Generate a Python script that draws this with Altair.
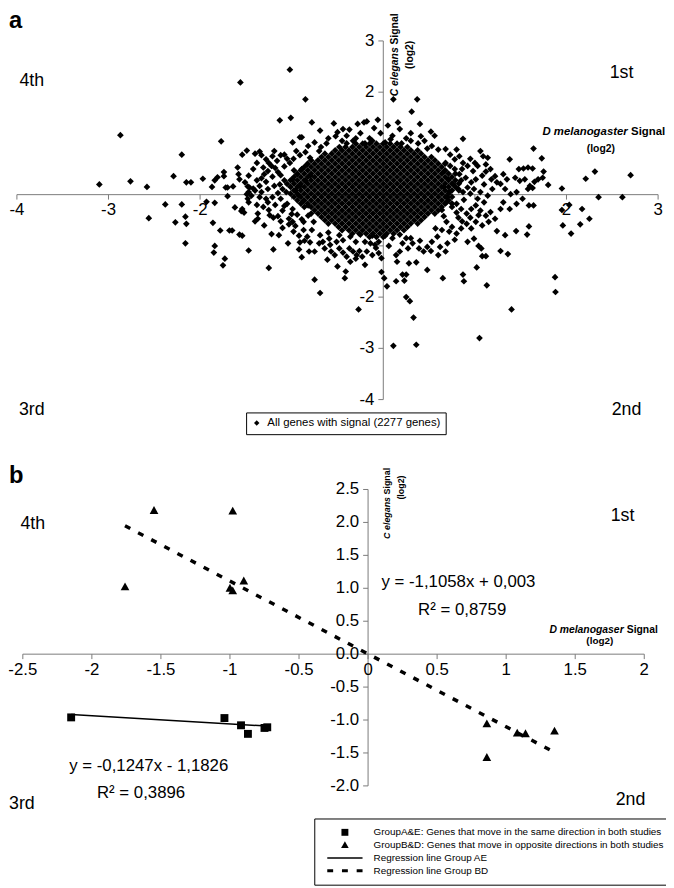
import altair as alt
import pandas as pd

FONT = "Liberation Sans, Arial, sans-serif"
W, H = 666, 880

# ---------------- Panel a : all genes with signal ----------------
LAB_A = "All genes with signal (2277 genes)"

a_far_left = [(-1.56,2.19),(-2.87,1.16),(-1.77,1.04),(-2.20,0.78),(-1.54,0.78),(-1.49,0.86),(-3.10,0.20),
    (-2.76,0.26),(-2.58,0.15),(-2.29,0.36),(-2.15,0.24),(-2.10,0.24),(-1.97,0.31),(-1.87,0.15),(-1.84,0.28),
    (-1.81,0.34),(-1.74,0.36),(-1.74,0.44),(-1.72,0.14),(-1.70,0.14),(-1.64,0.16),(-1.59,0.53),(-1.58,0.40),
    (-1.57,0.30),(-1.70,-0.03),(-1.48,0.16),(-1.47,0.05),(-1.48,-0.08),(-2.38,-0.19),(-2.20,-0.19),(-2.56,-0.46),
    (-2.27,-0.54),(-2.16,-0.43),(-2.15,-0.57),(-2.16,-0.95),(-1.93,-0.14),(-1.84,-0.16),(-1.86,-0.55),(-1.78,-0.70),
    (-1.84,-1.00),(-1.85,-1.13),(-1.73,-1.25),(-1.75,-1.38),(-1.68,-0.70),(-1.65,-0.70),(-1.62,-0.25),(-1.57,-0.78),
    (-1.54,-0.80),(-1.54,-0.28),(-1.55,-0.32),(-1.52,-0.35),(-1.47,-1.09),(-1.25,-1.43),(-1.20,-1.07),(-1.22,-0.77),
    (-1.14,-0.79),(-1.04,-0.95),(-0.92,-1.07),(-0.89,-1.22),(-0.81,-1.11),(-1.40,-0.52),(-1.37,-0.47),(-1.03,-0.58),
    (-0.99,-0.53),(-0.87,-0.53)]

a_top = [(-1.02,2.44),(-0.85,1.86),(-1.01,1.50),(-1.13,1.45),(-0.78,1.41),(-0.69,1.25),(-0.54,1.39),(-0.44,1.28),
    (-0.37,1.27),(-0.28,1.38),(-0.21,1.41),(-0.18,1.43),(-0.06,1.46),(0.11,1.86),(0.37,1.86),(0.31,1.62),(0.40,1.38),
    (0.16,1.41),(0.87,1.09),(0.52,1.23),(0.56,1.15),(-0.91,1.12),(-0.89,1.12),(-0.99,1.02),(-0.68,0.93),(-0.48,0.93),
    (-0.52,1.14),(-1.35,0.84),(-1.19,0.85),(-1.08,0.78),(-0.60,1.10),(-0.50,1.22),(-0.40,1.15),(-0.33,1.05),
    (-0.25,1.20),(-0.15,1.10),(-0.10,1.30),(-0.03,1.20),(0.05,1.35),(0.10,1.15),(0.18,1.28),(0.25,1.10),(0.30,1.20),
    (0.45,1.05),(-0.75,1.02),(-0.62,1.00),(-0.45,1.05),(-0.20,1.00),(0.02,1.02),(0.20,1.00),(0.38,1.00),(0.41,1.14),
    (0.53,0.95),(0.60,0.88),(-0.40,1.00),(-0.30,1.10),(-0.12,1.05),(0.08,1.08),(0.30,1.05),(0.48,0.90),(-0.70,0.85),
    (-0.82,0.95)]

a_bottom = [(-0.75,-1.66),(-0.69,-1.92),(-0.61,-1.27),(-0.50,-1.40),(-0.41,-1.50),(-0.42,-1.63),(-0.36,-1.31),
    (-0.30,-1.25),(-0.27,-2.24),(-0.20,-1.37),(-0.09,-0.98),(-0.02,-1.51),(0.01,-1.63),(0.04,-1.79),(0.11,-2.95),
    (0.36,-2.93),(0.33,-2.40),(0.25,-2.00),(0.29,-2.08),(0.23,-1.68),(0.25,-1.56),(0.21,-1.56),(0.14,-1.69),
    (0.15,-1.31),(0.14,-1.18),(0.28,-1.34),(0.36,-1.32),(0.48,-1.47),(0.65,-1.63),(0.68,-1.11),(0.87,-1.56),
    (0.88,-1.69),(0.92,-0.92),(1.02,-1.42),(1.13,-1.77),(1.05,-2.80),(1.40,-2.24),(1.04,-1.00),(1.07,-1.05),
    (1.08,-1.20),(1.12,-1.20),(1.28,-1.10),(1.36,-1.16),(-0.69,-0.79),(-0.66,-0.92),(-0.60,-0.74),(-0.64,-1.05),
    (-0.57,-1.11),(-0.53,-1.18),(-0.51,-0.92),(-0.48,-1.05),(-0.44,-1.13),(-0.40,-1.21),(-0.37,-1.05),(-0.33,-1.11),
    (-0.29,-1.18),(-0.26,-1.10),(-0.23,-1.21),(-0.18,-1.11),(-0.14,-0.95),(-0.12,-1.18),(-0.08,-1.04),(-0.05,-1.14),
    (-0.02,-1.24),(-0.59,-0.86),(-0.44,-0.89),(-0.30,-0.92),(-0.20,-0.92),(-0.05,-0.92),(-0.48,-0.79),(-0.36,-0.82),
    (-0.25,-0.78),(-0.12,-0.80),(0.02,-0.80),(0.10,-0.85),(0.06,-1.00),(0.18,-0.78),(0.25,-0.85),(-0.92,-0.80),
    (-0.86,-0.90),(-0.70,-0.95),(-0.58,-0.98)]

a_right = [(0.68,0.89),(1.06,0.85),(1.14,0.72),(1.38,0.69),(1.48,0.50),(1.44,0.33),(0.92,0.56),(0.98,0.46),
    (1.28,0.21),(1.35,0.30),(1.31,-0.15),(1.38,-0.28),(1.45,-0.71),(1.24,-0.71),(1.33,-0.79),(1.64,0.90),(1.73,0.71),
    (1.75,0.45),(1.80,0.19),(1.95,0.12),(2.21,0.31),(2.31,0.45),(2.70,0.38),(2.35,-0.05),(2.61,-0.05),(2.03,-0.20),
    (1.95,-0.30),(2.17,-0.28),(1.96,-0.60),(2.05,-0.76),(2.15,-0.58),(2.25,-0.47),(1.875,-1.61),(1.88,-1.90),
    (1.57,-0.78),(1.59,-0.62),(1.59,-0.21),(1.64,-0.21),(1.52,-0.08),(1.455,-0.18),(1.53,0.51),(1.58,0.53),
    (1.63,0.51),(1.49,0.27),(1.545,0.30),(1.60,0.17),(1.65,0.25),(1.69,0.30),(1.74,0.33),(1.455,0.05),(1.58,0.11),
    (1.63,0.13)]

a_mid_left = [(-1.40,0.80),(-1.33,0.77),(-1.28,0.69),(-1.21,0.75),(-1.12,0.77),(-1.16,0.66),(-1.22,0.56),
    (-1.26,0.46),(-1.31,0.53),(-1.38,0.62),(-1.42,0.50),(-1.47,0.37),(-1.51,0.24),(-1.46,0.14),(-1.49,0.01),
    (-1.40,0.08),(-1.35,0.17),(-1.28,0.25),(-1.21,0.35),(-1.15,0.44),(-1.08,0.55),(-1.02,0.62),(-0.98,0.70),
    (-0.91,0.77),(-0.85,0.83),(-0.80,0.72),(-0.83,0.59),(-0.89,0.50),(-0.94,0.40),(-0.99,0.30),(-1.05,0.21),
    (-1.10,0.11),(-1.15,0.03),(-1.21,-0.05),(-1.26,-0.15),(-1.31,-0.24),(-1.37,-0.37),(-1.47,-0.15),(-1.44,-0.02),
    (-1.05,-0.18),(-0.99,-0.28),(-0.94,-0.39),(-0.89,-0.48),(-1.10,-0.31),(-1.15,-0.42),(-1.03,-0.47),(-0.96,-0.61),
    (-0.87,-0.69),(-0.83,-0.82),(-0.80,-0.93),(-0.91,-0.93),(-0.75,-1.11),(-0.96,0.08),(-0.91,0.17),(-0.85,0.27),
    (-0.80,0.37),(-0.92,-0.02),(-0.87,-0.12),(-0.82,-0.21),(-0.82,-0.41),(-0.76,-0.53),(-0.78,-0.69),(-1.26,0.11),
    (-1.33,0.32),(-1.19,0.17),(-1.30,-0.60),(-1.20,-0.45),(-1.25,-0.30),(-1.10,-0.65),(-1.18,-0.20),(-1.35,-0.05),
    (-1.25,0.62),(-1.18,0.52),(-1.12,0.38),(-1.08,0.28),(-1.13,0.20),(-1.06,0.05),(-1.12,-0.08),(-1.08,-0.22),
    (-1.00,-0.38),(-1.12,-0.52),(-0.98,-0.72),(-1.05,0.70),(-0.95,0.85),(-1.30,0.40),(-1.38,0.28),(-1.42,0.12),
    (-1.33,0.05),(-1.28,-0.08),(-1.38,-0.20),(-1.24,-0.40)]

a_mid_right = [(0.73,0.78),(0.78,0.69),(0.83,0.75),(0.87,0.62),(1.03,0.56),(1.09,0.75),(1.12,0.59),(1.17,0.50),
    (1.08,0.37),(1.01,0.30),(0.96,0.24),(0.90,0.33),(0.83,0.40),(0.78,0.50),(0.73,0.56),(0.67,0.46),(0.71,0.30),
    (0.76,0.21),(0.82,0.11),(0.87,0.05),(0.92,0.14),(0.99,0.11),(1.06,0.05),(1.14,-0.02),(1.19,0.11),(1.24,0.24),
    (1.31,0.40),(1.33,0.11),(1.39,0.01),(0.69,-0.15),(0.75,-0.24),(0.80,-0.18),(0.85,-0.28),(0.91,-0.37),
    (0.96,-0.28),(1.01,-0.21),(1.06,-0.31),(1.12,-0.41),(1.17,-0.34),(1.22,-0.47),(1.15,-0.53),(1.08,-0.60),
    (1.01,-0.53),(0.96,-0.66),(0.91,-0.57),(0.85,-0.66),(0.80,-0.76),(0.75,-0.63),(0.69,-0.53),(0.64,-0.69),
    (0.59,-0.82),(0.53,-0.92),(0.48,-1.02),(0.44,-1.11),(0.39,-1.05),(0.32,-0.95),(0.27,-1.05),(0.21,-0.95),
    (0.18,-1.11),(0.60,-1.18),(0.99,-0.86),(0.57,-0.66),(1.28,-0.28),(0.72,0.05),(0.70,-0.05),(0.66,0.15),
    (0.64,-0.30),(0.66,-0.42),(0.68,0.62),(0.80,0.88),(0.95,0.70),(1.00,0.62),(0.86,0.50),(1.12,0.45),(1.22,0.36),
    (1.10,0.20),(1.18,0.30),(0.95,0.02),(1.03,-0.08),(1.10,-0.15),(0.88,-0.10),(0.82,-0.45),(0.86,-0.52),
    (0.95,-0.45),(1.04,-0.40),(0.78,-0.88),(0.70,-0.95),(0.62,-1.02),(0.52,-1.10),(0.40,-0.90),(0.30,-0.85),
    (0.85,0.28),(0.80,-0.35),(0.72,-0.72)]

# solid black core of the cloud: lattice columns and the extent of each row (y, from x, to x)
core_cols_even = [-1.05,-0.975,-0.9,-0.825,-0.75,-0.675,-0.6,-0.525,-0.45,-0.375,-0.3,-0.225,-0.15,-0.075,
                  0.0,0.075,0.15,0.225,0.3,0.375,0.45,0.525,0.6,0.675,0.75,0.825]
core_cols_odd = [-1.0875,-1.0125,-0.9375,-0.8625,-0.7875,-0.7125,-0.6375,-0.5625,-0.4875,-0.4125,-0.3375,-0.2625,
                 -0.1875,-0.1125,-0.0375,0.0375,0.1125,0.1875,0.2625,0.3375,0.4125,0.4875,0.5625,0.6375,0.7125,
                 0.7875,0.8625]
core_rows = [(0.995,-0.30,0.15),(0.93,-0.45,0.28),(0.865,-0.58,0.40),(0.80,-0.66,0.48),(0.735,-0.74,0.55),
    (0.67,-0.82,0.60),(0.605,-0.88,0.68),(0.54,-0.92,0.66),(0.475,-0.98,0.74),(0.41,-0.96,0.80),
    (0.345,-1.02,0.78),(0.28,-1.05,0.82),(0.215,-1.00,0.86),(0.15,-1.05,0.80),(0.085,-1.02,0.84),
    (0.02,-1.05,0.78),(-0.045,-0.98,0.80),(-0.11,-0.95,0.74),(-0.175,-0.90,0.76),(-0.24,-0.88,0.68),
    (-0.305,-0.82,0.64),(-0.37,-0.80,0.58),(-0.435,-0.74,0.52),(-0.50,-0.70,0.46),(-0.565,-0.64,0.40),
    (-0.63,-0.56,0.32),(-0.695,-0.46,0.24),(-0.76,-0.36,0.14),(-0.825,-0.22,0.05)]

a_ticks = [-4, -3, -2, -1, 1, 2, 3]
a_tick_labels = [-4, -3, -2, 2, 3]          # -1 and 1 are hidden under the cloud

# ---------------- Panel b : groups ----------------
LAB_AE = "GroupA&E: Genes that move in the same direction in both studies"
LAB_BD = "GroupB&D: Genes that move in opposite directions in both studies"
LAB_LAE = "Regression line Group AE"
LAB_LBD = "Regression line Group BD"

bd_x = [-1.76, -1.55, -0.98, -1.00, -0.98, -0.90, 0.86, 0.86, 1.08, 1.14, 1.35]
bd_y = [1.02, 2.18, 2.17, 1.00, 0.96, 1.11, -1.06, -1.57, -1.20, -1.21, -1.17]
ae_x = [-2.15, -1.04, -0.92, -0.87, -0.75, -0.73]
ae_y = [-0.96, -0.97, -1.08, -1.21, -1.12, -1.11]
reg_slope = {"AE": -0.1247, "BD": -1.1058}
reg_intercept = {"AE": -1.1826, "BD": 0.003}

b_xticks = [-2.5, -2, -1.5, -1, -0.5, 0, 0.5, 1, 1.5, 2]
b_yticks = [-2, -1.5, -1, -0.5, 0, 0.5, 1, 1.5, 2, 2.5]

# ---------------- build tables ----------------
pts = a_far_left + a_top + a_bottom + a_right + a_mid_left + a_mid_right
for i, (yy, lo, hi) in enumerate(core_rows):
    cols = core_cols_even if i % 2 == 0 else core_cols_odd
    pts += [(c, yy) for c in cols if lo - 1e-9 <= c <= hi + 1e-9]
df_a = pd.DataFrame({"x": [p[0] for p in pts], "y": [p[1] for p in pts], "s": LAB_A})

df_b = pd.concat([
    pd.DataFrame({"x": ae_x, "y": ae_y, "s": LAB_AE}),
    pd.DataFrame({"x": bd_x, "y": bd_y, "s": LAB_BD}),
])
def reg_df(xs, key):
    xe = [min(xs), max(xs)]
    return pd.DataFrame({"x": xe, "y": [reg_slope[key] * v + reg_intercept[key] for v in xe]})
df_lae = reg_df(ae_x, "AE")
df_lbd = reg_df(bd_x, "BD")

# ---------------- scales ----------------
sxa = alt.Scale(domain=[-4, 3], range=[9, 658])
sya = alt.Scale(domain=[-4, 3], range=[391, 28])
sxb = alt.Scale(domain=[-2.5, 2], range=[15, 644])
syb = alt.Scale(domain=[-2, 2.5], range=[782, 482])
AXC = "#7a7a7a"


def enc(sx, sy, xf="x", yf="y", **extra):
    e = dict(x=alt.X(f"{xf}:Q", scale=sx, axis=None), y=alt.Y(f"{yf}:Q", scale=sy, axis=None))
    e.update(extra)
    return e


def axes(sx, sy, xdom, ydom, xticks, yticks, xlabels, ylabels, size=17):
    """Axes crossing at (0,0), drawn through the panel's own scales."""
    xl = pd.DataFrame({"x": [xdom[0]], "x2": [xdom[1]], "y": [0]})
    yl = pd.DataFrame({"y": [ydom[0]], "y2": [ydom[1]], "x": [0]})
    xt = pd.DataFrame({"x": xticks, "y": 0})
    yt = pd.DataFrame({"y": yticks, "x": 0})
    xtx = pd.DataFrame({"x": [v for v, _ in xlabels], "y": 0, "t": [t for _, t in xlabels]})
    ytx = pd.DataFrame({"y": [v for v, _ in ylabels], "x": 0, "t": [t for _, t in ylabels]})
    return [
        alt.Chart(xl).mark_rule(color=AXC, strokeWidth=1).encode(**enc(sx, sy), x2="x2:Q"),
        alt.Chart(yl).mark_rule(color=AXC, strokeWidth=1).encode(**enc(sx, sy), y2="y2:Q"),
        alt.Chart(xt).mark_rule(color=AXC, strokeWidth=1, y2Offset=5).encode(**enc(sx, sy), y2="y:Q"),
        alt.Chart(yt).mark_rule(color=AXC, strokeWidth=1, x2Offset=-5).encode(**enc(sx, sy), x2="x:Q"),
        alt.Chart(xtx).mark_text(font=FONT, fontSize=size, baseline="top", dy=8, color="black").encode(
            **enc(sx, sy), text="t:N"),
        alt.Chart(ytx).mark_text(font=FONT, fontSize=size, align="right", baseline="middle", dx=-9,
                                 color="black").encode(**enc(sx, sy), text="t:N"),
    ]


def label(sx, sy, x, y, text, size, weight="normal", style="normal", align="left", baseline="middle", angle=None):
    kw = dict(font=FONT, fontSize=size, fontWeight=weight, fontStyle=style, align=align,
              baseline=baseline, color="black")
    if angle is not None:
        kw["angle"] = angle
    d = pd.DataFrame({"x": [x], "y": [y], "t": [text]})
    return alt.Chart(d).mark_text(**kw).encode(**enc(sx, sy), text="t:N")


# ---------------- panel a ----------------
axes_a = axes(sxa, sya, [-4, 3], [-4, 3], a_ticks, a_ticks,
              [(v, f"{v:g}") for v in a_tick_labels], [(v, f"{v:g}") for v in a_tick_labels])
pts_a = alt.Chart(df_a).mark_point(filled=True, size=46, opacity=1, color="black").encode(
    **enc(sxa, sya),
    shape=alt.Shape("s:N", scale=alt.Scale(domain=[LAB_A], range=["diamond"]),
                    legend=alt.Legend(orient="none", legendX=241, legendY=404, title=None,
                                      strokeColor="black", fillColor="white", padding=5,
                                      symbolSize=30, symbolFillColor="black", symbolStrokeWidth=0,
                                      labelFont=FONT, labelFontSize=11.5, labelLimit=400, labelOffset=5)),
)
panel_a = alt.layer(
    *axes_a,
    pts_a,
    label(sxa, sya, -4.086, 3.25, "a", 24, weight="bold", baseline="alphabetic"),
    label(sxa, sya, -3.838, 2.209, "4th", 18, align="center"),
    label(sxa, sya, 2.601, 2.383, "1st", 18, align="center"),
    label(sxa, sya, -3.838, -4.212, "3rd", 18, align="center"),
    label(sxa, sya, 2.655, -4.212, "2nd", 18, align="center"),
    label(sxa, sya, 0.131, 1.92, "C elegans", 10.5, weight="bold", style="italic", angle=270),
    label(sxa, sya, 0.131, 2.93, "Signal", 10.5, weight="bold", angle=270),
    label(sxa, sya, 0.293, 2.73, "(log2)", 10.5, weight="bold", align="center", angle=270),
    label(sxa, sya, 1.738, 1.226, "D melanogaster", 11.5, weight="bold", style="italic"),
    label(sxa, sya, 2.705, 1.226, "Signal", 11.5, weight="bold"),
    label(sxa, sya, 2.375, 0.898, "(log2)", 10.5, weight="bold", align="center"),
)

# ---------------- panel b ----------------
SQ = "M-1,-1L1,-1L1,1L-1,1Z"
TRI = "M0,-1.15L1.1,0.85L-1.1,0.85Z"
LINE = "M-5.1,-0.2L5.1,-0.2L5.1,0.2L-5.1,0.2Z"
DASH = ("M-5.1,-0.43L-3.4,-0.43L-3.4,0.43L-5.1,0.43Z M-0.85,-0.43L0.85,-0.43L0.85,0.43L-0.85,0.43Z "
        "M3.4,-0.43L5.1,-0.43L5.1,0.43L3.4,0.43Z")
axes_b = axes(sxb, syb, [-2.5, 2], [-2, 2.5], b_xticks, b_yticks,
              [(v, f"{v:g}") for v in b_xticks], [(v, f"{v:.1f}") for v in b_yticks])
pts_b = alt.Chart(df_b).mark_point(filled=True, size=64, opacity=1, color="black").encode(
    **enc(sxb, syb),
    shape=alt.Shape("s:N", scale=alt.Scale(domain=[LAB_AE, LAB_BD, LAB_LAE, LAB_LBD], range=[SQ, TRI, LINE, DASH]),
                    legend=alt.Legend(orient="none", legendX=310, legendY=815, title=None,
                                      strokeColor="black", fillColor="white", padding=9,
                                      symbolSize=49, symbolFillColor="black", symbolStrokeWidth=0,
                                      symbolOffset=17, labelOffset=24, rowPadding=3,
                                      labelFont=FONT, labelFontSize=10, labelLimit=400)),
)
line_ae = alt.Chart(df_lae).mark_line(color="black", strokeWidth=1.5).encode(**enc(sxb, syb))
line_bd = alt.Chart(df_lbd).mark_line(color="black", strokeWidth=3.5, strokeDash=[6, 9]).encode(**enc(sxb, syb))

panel_b = alt.layer(
    *axes_b,
    line_ae, line_bd, pts_b,
    label(sxb, syb, -2.6, 2.605, "b", 24, weight="bold", baseline="alphabetic"),
    label(sxb, syb, -2.428, 1.975, "4th", 18, align="center"),
    label(sxb, syb, 1.843, 2.095, "1st", 18, align="center"),
    label(sxb, syb, -2.507, -2.27, "3rd", 18, align="center"),
    label(sxb, syb, 1.9, -2.21, "2nd", 18, align="center"),
    label(sxb, syb, 0.097, 1.09, "y = -1,1058x + 0,003", 17),
    label(sxb, syb, 0.362, 0.67, "R\u00b2 = 0,8759", 17),
    label(sxb, syb, -2.164, -1.70, "y = -0,1247x - 1,1826", 17),
    label(sxb, syb, -1.963, -2.105, "R\u00b2 = 0,3896", 17),
    label(sxb, syb, 0.14, 1.75, "C elegans", 9, weight="bold", style="italic", angle=270),
    label(sxb, syb, 0.14, 2.425, "Signal", 9, weight="bold", angle=270),
    label(sxb, syb, 0.24, 2.53, "(log2)", 9, weight="bold", align="center", angle=270),
    label(sxb, syb, 1.313, 0.37, "D melanogaser", 10.5, weight="bold", style="italic"),
    label(sxb, syb, 1.873, 0.37, "Signal", 10.5, weight="bold"),
    label(sxb, syb, 1.678, 0.205, "(log2)", 10, weight="bold", align="center"),
)

chart = alt.layer(panel_a, panel_b).resolve_scale(
    x="independent", y="independent", shape="independent"
).properties(
    width=W, height=H, padding=0, autosize=alt.AutoSizeParams(type="none")
).configure_view(stroke=None)

chart.save("out.html", embed_options={"renderer": "svg", "actions": False})
